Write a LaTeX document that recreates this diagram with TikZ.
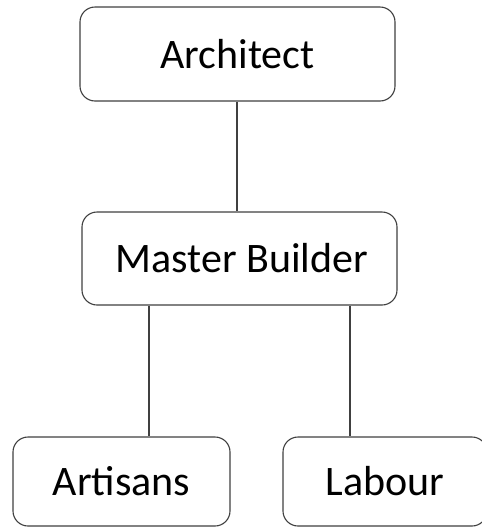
\documentclass[tikz,border=0pt]{standalone}
\usepackage{fontspec}
\setmainfont{Carlito}
\begin{document}
\begin{tikzpicture}[x=1pt,y=-1pt,
  box/.style={draw=black!75, line width=1.1pt, rounded corners=15pt, fill=white, inner sep=0pt, font=\fontsize{42}{42}\selectfont},
  link/.style={draw=black!75, line width=1.1pt}]
\useasboundingbox (0,0) rectangle (482,528);
\clip (0,0) rectangle (482,528);
\node[box, minimum width=315pt, minimum height=94pt] (arch) at (237.5,54) {Architect};
\node[box, minimum width=315pt, minimum height=93pt] (mb) at (239.5,258.5) {\hspace{5pt}Master Builder};
\node[box, minimum width=217pt, minimum height=89pt] (art) at (121.5,481.5) {Artisans};
\node[box, minimum width=204pt, minimum height=89pt] (lab) at (385,481.5) {Labour};
\draw[link] (arch.south -| 237,0) -- (mb.north -| 237,0);
\draw[link] (mb.south -| 149,0) -- (art.north -| 149,0);
\draw[link] (mb.south -| 350,0) -- (lab.north -| 350,0);
\end{tikzpicture}
\end{document}
